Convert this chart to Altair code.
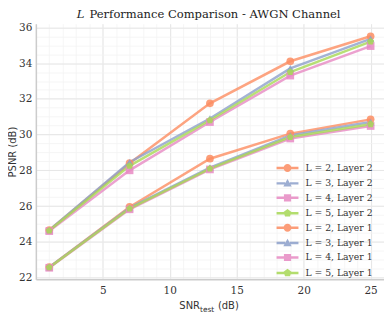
import altair as alt
import pandas as pd

snr = [1, 7, 13, 19, 25]
L_values = [2, 3, 4, 5]
layer2 = {
    2: [24.65, 28.40, 31.75, 34.10, 35.50],
    3: [24.65, 28.45, 30.90, 33.70, 35.35],
    4: [24.60, 28.00, 30.70, 33.30, 34.95],
    5: [24.63, 28.25, 30.80, 33.50, 35.20],
}
layer1 = {
    2: [22.58, 25.95, 28.65, 30.05, 30.85],
    3: [22.58, 25.90, 28.15, 29.95, 30.70],
    4: [22.55, 25.82, 28.05, 29.78, 30.48],
    5: [22.57, 25.86, 28.10, 29.86, 30.58],
}
colors = ["#fc8d62", "#8da0cb", "#e78ac3", "#a6d854"]
x_ticks = [5, 10, 15, 20, 25]
y_ticks = [22, 24, 26, 28, 30, 32, 34, 36]
x_minor = list(range(0, 27))
y_minor = [22 + 0.5 * i for i in range(29)]

rows = []
labels = []
for layer_name, layer in [("Layer 2", layer2), ("Layer 1", layer1)]:
    for L in L_values:
        lab = f"L = {L}, {layer_name}"
        labels.append(lab)
        for s, v in zip(snr, layer[L]):
            rows.append({"snr": s, "psnr": v, "L": L, "label": lab})
df = pd.DataFrame(rows)

pent = "M0,-0.95 L0.9,-0.29 L0.56,0.77 L-0.56,0.77 L-0.9,-0.29 Z"
marker_shapes = ["circle", "triangle-up", "square", pent]

bar = "M-2.75,-0.31 L-0.6,-0.31 L-0.6,0.31 L-2.75,0.31 Z M0.6,-0.31 L2.75,-0.31 L2.75,0.31 L0.6,0.31 Z "
leg_paths = [
    bar + "M1.0,0 A1.0,1.0 0 1,1 -1.0,0 A1.0,1.0 0 1,1 1.0,0 Z",
    bar + "M0,-1.1 L1.05,0.8 L-1.05,0.8 Z",
    bar + "M-0.9,-0.9 L0.9,-0.9 L0.9,0.9 L-0.9,0.9 Z",
    bar + "M0,-1.05 L1.0,-0.32 L0.62,0.85 L-0.62,0.85 L-1.0,-0.32 Z",
]

X0, X1 = 0, 26
Y0, Y1 = 21.9, 36.2
xs = alt.Scale(domain=[X0, X1], nice=False, zero=False)
ys = alt.Scale(domain=[Y0, Y1], nice=False, zero=False)
cscale = alt.Scale(domain=labels, range=colors * 2)
lscale = alt.Scale(domain=L_values, range=colors)

serif = "DejaVu Serif"
sans = "DejaVu Sans"

grid_layer = alt.Chart(df).mark_point(opacity=0).encode(
    x=alt.X("snr:Q", scale=xs, axis=alt.Axis(orient="bottom", values=x_minor, labels=False, ticks=False,
                                            domain=False, grid=True, gridColor="#f2f2f2", gridWidth=0.8, title=None)),
    y=alt.Y("psnr:Q", scale=ys, axis=alt.Axis(orient="left", values=y_minor, labels=False, ticks=False,
                                             domain=False, grid=True, gridColor="#f2f2f2", gridWidth=0.8, title=None)),
)

main_x = alt.X("snr:Q", scale=xs, axis=alt.Axis(orient="bottom", values=x_ticks, grid=True, gridColor="#e6e6e6",
                                               gridWidth=1, ticks=False, domain=True, domainColor="#cccccc",
                                               domainWidth=1.5, labelFont=serif, labelFontSize=10.5,
                                               labelColor="#333333", labelPadding=6, title=None))
main_y = alt.Y("psnr:Q", scale=ys, axis=alt.Axis(orient="left", values=y_ticks, grid=True, gridColor="#e6e6e6",
                                                gridWidth=1, ticks=False, domain=True, domainColor="#cccccc",
                                                domainWidth=1.5, labelFont=serif, labelFontSize=10.5,
                                                labelColor="#333333", labelPadding=4, title="PSNR (dB)",
                                                titleFont=sans, titleFontSize=10, titleFontWeight="normal",
                                                titleColor="#333333", titlePadding=1))

lines = alt.Chart(df).mark_line(strokeWidth=2.5, opacity=0.8).encode(
    x=main_x, y=main_y,
    stroke=alt.Stroke("L:O", scale=lscale, legend=None),
    detail="label:N",
)

point_layers = []
for i, L in enumerate(L_values):
    point_layers.append(
        alt.Chart(df[df.L == L]).mark_point(filled=True, shape=marker_shapes[i], size=60, opacity=0.85,
                                            color=colors[i]).encode(
            x=alt.X("snr:Q", scale=xs, axis=None), y=alt.Y("psnr:Q", scale=ys, axis=None),
        )
    )

leg_cfg = dict(orient="none", legendX=248, legendY=140, padding=0, title=None, labelFont=serif,
               labelFontSize=9.3, labelColor="#333333", labelOffset=13, rowPadding=0.5, symbolSize=64,
               symbolOpacity=0.85)
legend_layer = alt.Chart(df).mark_point(filled=True, size=64, opacity=0.85, clip=True).encode(
    x=alt.value(-500), y=alt.value(-500),
    color=alt.Color("label:N", scale=cscale, legend=alt.Legend(**leg_cfg)),
    shape=alt.Shape("label:N", scale=alt.Scale(domain=labels, range=leg_paths * 2), legend=alt.Legend(**leg_cfg)),
)

title_df = pd.DataFrame({"t": ["L"]})
rest_df = pd.DataFrame({"t": ["Performance Comparison - AWGN Channel"]})
title_L = alt.Chart(title_df).mark_text(font=serif, fontSize=11.6, fontStyle="italic", align="left",
                                        baseline="alphabetic", color="#222222").encode(
    x=alt.value(41), y=alt.value(-6), text="t:N")
title_rest = alt.Chart(rest_df).mark_text(font=serif, fontSize=11.6, align="left", baseline="alphabetic",
                                          color="#222222").encode(
    x=alt.value(54), y=alt.value(-6), text="t:N")

xt1 = alt.Chart(pd.DataFrame({"t": ["SNR"]})).mark_text(font=sans, fontSize=10, align="right",
                                                        baseline="alphabetic", color="#333333").encode(
    x=alt.value(165), y=alt.value(287), text="t:N")
xt2 = alt.Chart(pd.DataFrame({"t": ["test"]})).mark_text(font=sans, fontSize=7.5, align="left",
                                                         baseline="alphabetic", color="#333333").encode(
    x=alt.value(165), y=alt.value(290), text="t:N")
xt3 = alt.Chart(pd.DataFrame({"t": ["(dB)"]})).mark_text(font=sans, fontSize=10, align="left",
                                                         baseline="alphabetic", color="#333333").encode(
    x=alt.value(183), y=alt.value(287), text="t:N")

chart = alt.layer(grid_layer, lines, *point_layers, legend_layer, title_L, title_rest, xt1, xt2, xt3).resolve_axis(
    x="independent", y="independent"
).properties(
    width=350, height=257,
    padding={"left": 28, "top": 15, "right": 0, "bottom": 35},
    autosize=alt.AutoSizeParams(type="none"),
).configure_view(stroke=None).configure_axis(labelFontWeight="normal")

chart.save("out.html", embed_options={"renderer": "svg", "actions": False})
